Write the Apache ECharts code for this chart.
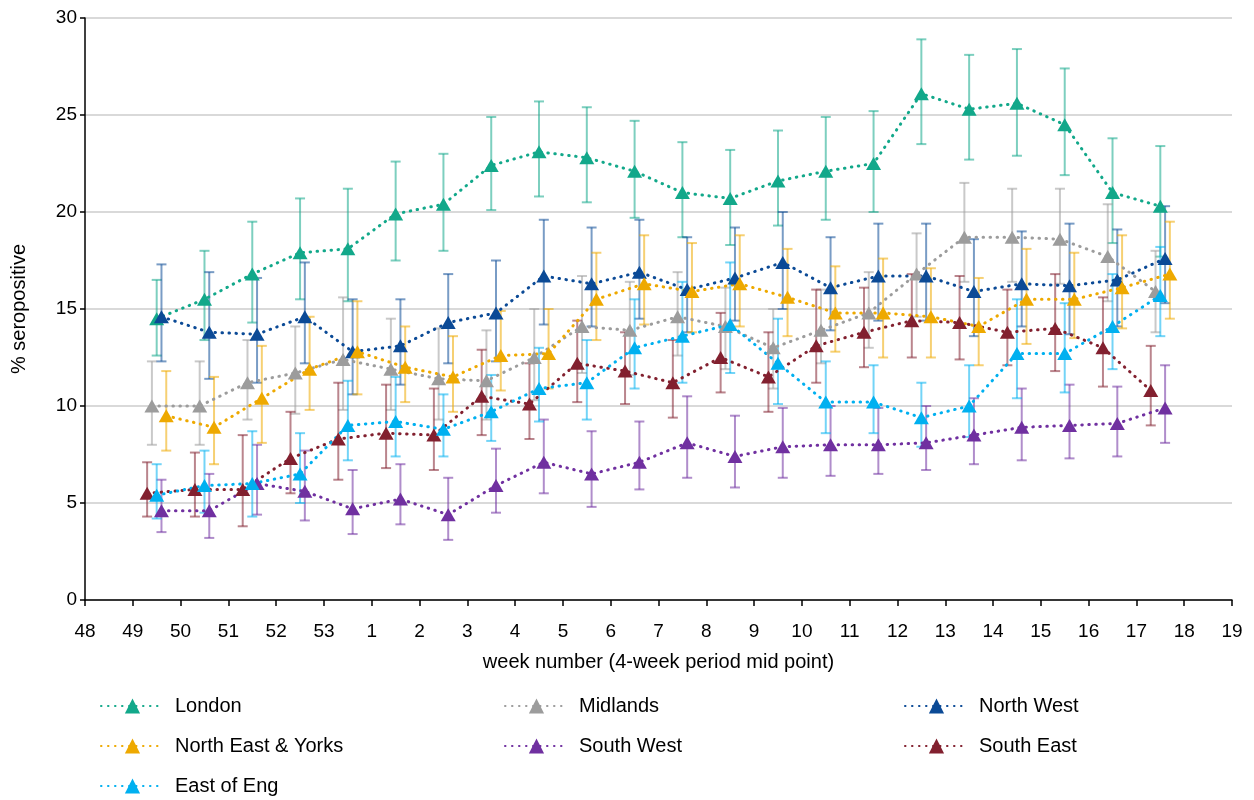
<!DOCTYPE html>
<html>
<head>
<meta charset="utf-8">
<script src="https://cdn.jsdelivr.net/npm/echarts@6/dist/echarts.min.js"></script>
<style>
  html, body { margin: 0; padding: 0; background: #fff; }
  #chart { width: 1254px; height: 800px; }
</style>
</head>
<body>
<div id="chart"></div>
<script>
// tick labels along the x axis (week numbers, year wraps after 53)
const tickLabels = ['48', '49', '50', '51', '52', '53', '1', '2', '3', '4', '5', '6', '7', '8', '9', '10', '11', '12', '13', '14', '15', '16', '17', '18', '19']
// period mid points (each sits half way between two ticks)
const weeks = ['49', '50', '51', '52', '53', '1', '2', '3', '4', '5', '6', '7', '8', '9', '10', '11', '12', '13', '14', '15', '16', '17']

const londonVal  = [14.5, 15.5, 16.8, 17.9, 18.1, 19.9, 20.4, 22.4, 23.1, 22.8, 22.1, 21.0, 20.7, 21.6, 22.1, 22.5, 26.1, 25.3, 25.6, 24.5, 21.0, 20.3]
const londonLow  = [12.6, 13.4, 14.3, 15.5, 15.4, 17.5, 18.0, 20.1, 20.8, 20.5, 19.7, 18.7, 18.3, 19.3, 19.6, 20.0, 23.5, 22.7, 22.9, 21.9, 18.4, 17.7]
const londonHigh = [16.5, 18.0, 19.5, 20.7, 21.2, 22.6, 23.0, 24.9, 25.7, 25.4, 24.7, 23.6, 23.2, 24.2, 24.9, 25.2, 28.9, 28.1, 28.4, 27.4, 23.8, 23.4]

const midlandsVal  = [10.0, 10.0, 11.2, 11.7, 12.4, 11.9, 11.4, 11.3, 12.5, 14.1, 13.9, 14.6, 14.1, 13.0, 13.9, 14.8, 16.8, 18.7, 18.7, 18.6, 17.7, 15.9]
const midlandsLow  = [8.0, 8.0, 9.3, 9.6, 9.8, 9.8, 9.3, 9.3, 10.3, 11.7, 11.6, 12.6, 11.9, 10.9, 12.2, 13.0, 14.6, 16.4, 16.4, 16.3, 15.4, 13.8]
const midlandsHigh = [12.3, 12.3, 13.4, 14.1, 15.6, 14.5, 14.0, 13.9, 15.0, 16.7, 16.4, 16.9, 16.1, 15.0, 16.0, 16.9, 18.9, 21.5, 21.2, 21.2, 20.4, 18.0]

const northWestVal  = [14.6, 13.8, 13.7, 14.6, 12.8, 13.1, 14.3, 14.8, 16.7, 16.3, 16.9, 16.0, 16.6, 17.4, 16.1, 16.7, 16.7, 15.9, 16.3, 16.2, 16.5, 17.6]
const northWestLow  = [12.3, 11.4, 11.2, 12.2, 10.6, 11.1, 12.2, 12.3, 14.2, 14.1, 14.5, 13.8, 14.4, 15.0, 13.9, 14.4, 14.4, 13.6, 14.1, 13.7, 14.1, 15.3]
const northWestHigh = [17.3, 16.9, 16.6, 17.4, 15.5, 15.5, 16.8, 17.5, 19.6, 19.2, 19.6, 18.7, 19.2, 20.0, 18.7, 19.4, 19.4, 18.6, 19.0, 19.4, 19.1, 20.3]

const neYorksVal  = [9.5, 8.9, 10.4, 11.9, 12.8, 12.0, 11.5, 12.6, 12.7, 15.5, 16.3, 15.9, 16.3, 15.6, 14.8, 14.8, 14.6, 14.1, 15.5, 15.5, 16.1, 16.8]
const neYorksLow  = [7.7, 7.0, 8.1, 9.8, 10.6, 10.2, 9.7, 10.8, 10.9, 13.4, 14.2, 13.8, 14.1, 13.6, 12.8, 12.5, 12.5, 12.1, 13.2, 13.5, 14.0, 14.5]
const neYorksHigh = [11.8, 11.5, 13.1, 14.6, 15.4, 14.1, 13.6, 14.9, 15.0, 17.9, 18.8, 18.4, 18.8, 18.1, 17.2, 17.6, 17.1, 16.6, 18.1, 17.9, 18.8, 19.5]

const southWestVal  = [4.6, 4.6, 6.0, 5.6, 4.7, 5.2, 4.4, 5.9, 7.1, 6.5, 7.1, 8.1, 7.4, 7.9, 8.0, 8.0, 8.1, 8.5, 8.9, 9.0, 9.1, 9.9]
const southWestLow  = [3.5, 3.2, 4.4, 4.1, 3.4, 3.9, 3.1, 4.5, 5.5, 4.8, 5.7, 6.3, 5.8, 6.3, 6.4, 6.5, 6.7, 7.0, 7.2, 7.3, 7.4, 8.1]
const southWestHigh = [6.2, 6.5, 8.0, 7.7, 6.7, 7.0, 6.3, 7.8, 9.3, 8.7, 9.2, 10.5, 9.5, 9.9, 10.0, 9.9, 10.0, 10.4, 10.9, 11.1, 11.0, 12.1]

const southEastVal  = [5.5, 5.7, 5.7, 7.3, 8.3, 8.6, 8.5, 10.5, 10.1, 12.2, 11.8, 11.2, 12.5, 11.5, 13.1, 13.8, 14.4, 14.3, 13.8, 14.0, 13.0, 10.8]
const southEastLow  = [4.3, 4.3, 3.8, 5.5, 6.2, 6.8, 6.7, 8.5, 8.3, 10.2, 10.1, 9.4, 10.7, 9.7, 11.2, 12.0, 12.5, 12.4, 12.1, 11.8, 11.0, 9.0]
const southEastHigh = [7.1, 7.6, 8.5, 9.7, 11.2, 11.1, 10.9, 12.9, 12.2, 14.4, 13.8, 13.4, 14.8, 13.8, 16.0, 16.1, 16.8, 16.7, 16.0, 16.8, 15.6, 13.1]

const eastEngVal  = [5.4, 5.9, 6.0, 6.5, 9.0, 9.2, 8.8, 9.7, 10.9, 11.2, 13.0, 13.6, 14.2, 12.2, 10.2, 10.2, 9.4, 10.0, 12.7, 12.7, 14.1, 15.7]
const eastEngLow  = [4.2, 4.5, 4.3, 5.0, 7.2, 7.4, 7.4, 8.2, 9.2, 9.3, 10.9, 11.2, 11.7, 10.1, 8.6, 8.6, 7.9, 8.4, 10.4, 10.7, 11.9, 13.6]
const eastEngHigh = [7.0, 7.7, 8.7, 8.6, 11.3, 11.5, 10.6, 11.6, 13.0, 13.4, 15.5, 16.4, 17.4, 14.5, 12.3, 12.1, 11.2, 12.1, 15.5, 15.3, 16.8, 18.2]

// series as drawn, with colour and the small horizontal stagger Excel applied
const regions = [
  { name: 'London', val: londonVal, low: londonLow, high: londonHigh, color: '#12A88A', shift: 0 },
  { name: 'Midlands', val: midlandsVal, low: midlandsLow, high: midlandsHigh, color: '#9C9C9C', shift: -0.1 },
  { name: 'North West', val: northWestVal, low: northWestLow, high: northWestHigh, color: '#0B4A96', shift: 0.1 },
  { name: 'North East & Yorks', val: neYorksVal, low: neYorksLow, high: neYorksHigh, color: '#EEA900', shift: 0.2 },
  { name: 'South West', val: southWestVal, low: southWestLow, high: southWestHigh, color: '#7030A0', shift: 0.1 },
  { name: 'South East', val: southEastVal, low: southEastLow, high: southEastHigh, color: '#82202F', shift: -0.2 },
  { name: 'East of Eng', val: eastEngVal, low: eastEngLow, high: eastEngHigh, color: '#00B0F0', shift: 0 },
]

// week label -> position on the continuous axis (48 .. 72)
function weekPos(w) {
  const i = tickLabels.indexOf(w)
  return 48 + i + 0.5
}

const FONT = 'Liberation Sans, Arial, sans-serif'
var myChart = echarts.init(document.getElementById('chart'))

var series = []
regions.forEach((r) => {
  var errData = weeks.map((w, i) => [weekPos(w) + r.shift, r.low[i], r.high[i]])
  series.push({
    name: r.name + ' err',
    type: 'custom',
    z: 1,
    silent: true,
    encode: { x: 0, y: [1, 2] },
    data: errData,
    renderItem: function (params, api) {
      var x = api.value(0)
      var lo = api.coord([x, api.value(1)])
      var hi = api.coord([x, api.value(2)])
      var st = { stroke: r.color, lineWidth: 2, opacity: 0.55 }
      var cap = 5
      return {
        type: 'group',
        children: [
          { type: 'line', shape: { x1: lo[0], y1: lo[1], x2: hi[0], y2: hi[1] }, style: st },
          { type: 'line', shape: { x1: lo[0] - cap, y1: lo[1], x2: lo[0] + cap, y2: lo[1] }, style: st },
          { type: 'line', shape: { x1: hi[0] - cap, y1: hi[1], x2: hi[0] + cap, y2: hi[1] }, style: st },
        ],
      }
    },
  })
})
regions.forEach((r) => {
  series.push({
    name: r.name,
    type: 'line',
    z: 3,
    data: weeks.map((w, i) => [weekPos(w) + r.shift, r.val[i]]),
    symbol: 'triangle',
    symbolSize: [15, 13],
    showSymbol: true,
    itemStyle: { color: r.color },
    lineStyle: { color: r.color, width: 3, type: [0.5, 6.5], cap: 'round' },
    emphasis: { disabled: true },
  })
})

function legendBox(left, names) {
  return {
    orient: 'vertical',
    left: left,
    top: 695,
    padding: 0,
    itemWidth: 63,
    itemHeight: 19,
    itemGap: 18,
    data: names,
    textStyle: { fontFamily: FONT, fontSize: 20, color: '#000', padding: [0, 0, 0, 6], lineHeight: 22 },
  }
}

var option = {
  backgroundColor: '#fff',
  animation: false,
  grid: { left: 85, right: 22, top: 18, bottom: 200, containLabel: false },
  legend: [
    legendBox(100, ['London', 'North East & Yorks', 'East of Eng']),
    legendBox(504, ['Midlands', 'South West']),
    legendBox(904, ['North West', 'South East']),
  ],
  xAxis: {
    type: 'value',
    min: 48,
    max: 72,
    interval: 1,
    name: 'week number (4-week period mid point)',
    nameLocation: 'middle',
    nameGap: 52,
    nameTextStyle: { fontFamily: FONT, fontSize: 20, color: '#000' },
    axisLine: { show: true, onZero: false, lineStyle: { color: '#000', width: 1.5 } },
    axisTick: { show: true, length: 6, lineStyle: { color: '#000', width: 1.5 } },
    axisLabel: {
      fontFamily: FONT,
      fontSize: 19,
      color: '#000',
      margin: 22,
      formatter: function (v) {
        return tickLabels[Math.round(v) - 48]
      },
    },
    splitLine: { show: false },
  },
  yAxis: {
    type: 'value',
    min: 0,
    max: 30,
    interval: 5,
    name: '% seropositive',
    nameLocation: 'middle',
    nameGap: 56,
    nameTextStyle: { fontFamily: FONT, fontSize: 20, color: '#000' },
    axisLine: { show: true, lineStyle: { color: '#000', width: 1.5 } },
    axisTick: { show: true, length: 5, lineStyle: { color: '#000', width: 1.5 } },
    axisLabel: { fontFamily: FONT, fontSize: 19, color: '#000', margin: 8 },
    splitLine: { show: true, lineStyle: { color: '#D9D9D9', width: 2 } },
  },
  series: series,
}
option && myChart.setOption(option)
window.addEventListener('resize', function () {
  myChart.resize()
})
</script>
</body>
</html>
